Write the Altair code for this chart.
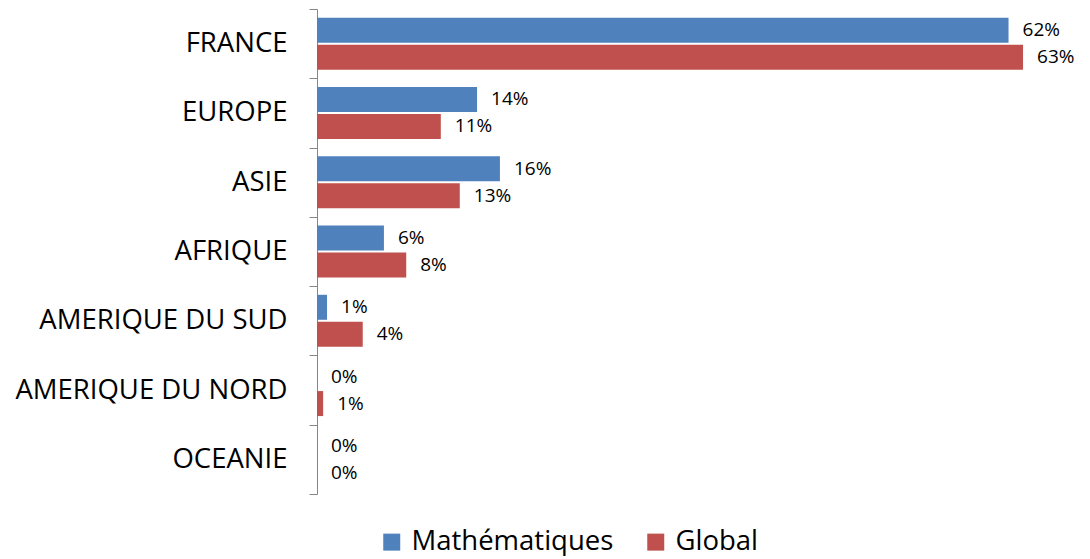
import altair as alt
import pandas as pd

categories = ["FRANCE", "EUROPE", "ASIE", "AFRIQUE", "AMERIQUE DU SUD", "AMERIQUE DU NORD", "OCEANIE"]
series = ["Mathématiques", "Global"]
math_values = [62.0, 14.35, 16.4, 6.0, 0.9, 0.0, 0.0]
global_values = [63.3, 11.1, 12.8, 8.0, 4.1, 0.55, 0.0]
math_labels = ["62%", "14%", "16%", "6%", "1%", "0%", "0%"]
global_labels = ["63%", "11%", "13%", "8%", "4%", "1%", "0%"]
colors = ["#4F81BD", "#C0504D"]

rows = []
for i, c in enumerate(categories):
    rows.append({"region": c, "series": series[0], "value": math_values[i], "label": math_labels[i]})
    rows.append({"region": c, "series": series[1], "value": global_values[i], "label": global_labels[i]})
df = pd.DataFrame(rows)

y = alt.Y(
    "region:N",
    sort=categories,
    scale=alt.Scale(paddingInner=0, paddingOuter=0),
    axis=alt.Axis(
        title=None,
        tickBand="extent",
        tickSize=8,
        labelPadding=22,
        labelFont="Open Sans",
        labelFontSize=27.5,
        labelColor="black",
        domainColor="#868686",
        tickColor="#868686",
        minExtent=309,
        labelLimit=400,
        labelExpr="datum.value == 'FRANCE' ? 'FRANCE' : datum.label",
    ),
)
yoff = alt.YOffset(
    "series:N", sort=series,
    scale=alt.Scale(domain=series, paddingInner=0.074, paddingOuter=0.32),
)
x = alt.X("value:Q", scale=alt.Scale(domain=[0, 65]), axis=None)

bars = alt.Chart(df).mark_bar().encode(
    y=y,
    yOffset=yoff,
    x=x,
    color=alt.Color(
        "series:N",
        sort=series,
        scale=alt.Scale(domain=series, range=colors),
        legend=alt.Legend(
            title=None,
            orient="none",
            legendX=61,
            legendY=519,
            direction="horizontal",
            symbolType="square",
            symbolSize=289,
            symbolStrokeWidth=0,
            labelFont="Open Sans",
            labelFontSize=27.5,
            labelColor="black",
            labelOffset=6,
            labelLimit=400,
            columnPadding=28,
            padding=0,
        ),
    ),
)

texts = alt.Chart(df).mark_text(
    align="left", baseline="middle", dx=14, font="Open Sans", fontSize=19, color="black"
).encode(y=y, yOffset=yoff, x=x, text="label:N")

chart = (
    alt.layer(bars, texts)
    .properties(width=725, height=485, padding={"top": -13, "left": 0, "right": 0, "bottom": 0})
    .configure_view(stroke=None)
)

chart.save("out.html", embed_options={"renderer": "svg", "actions": False})
